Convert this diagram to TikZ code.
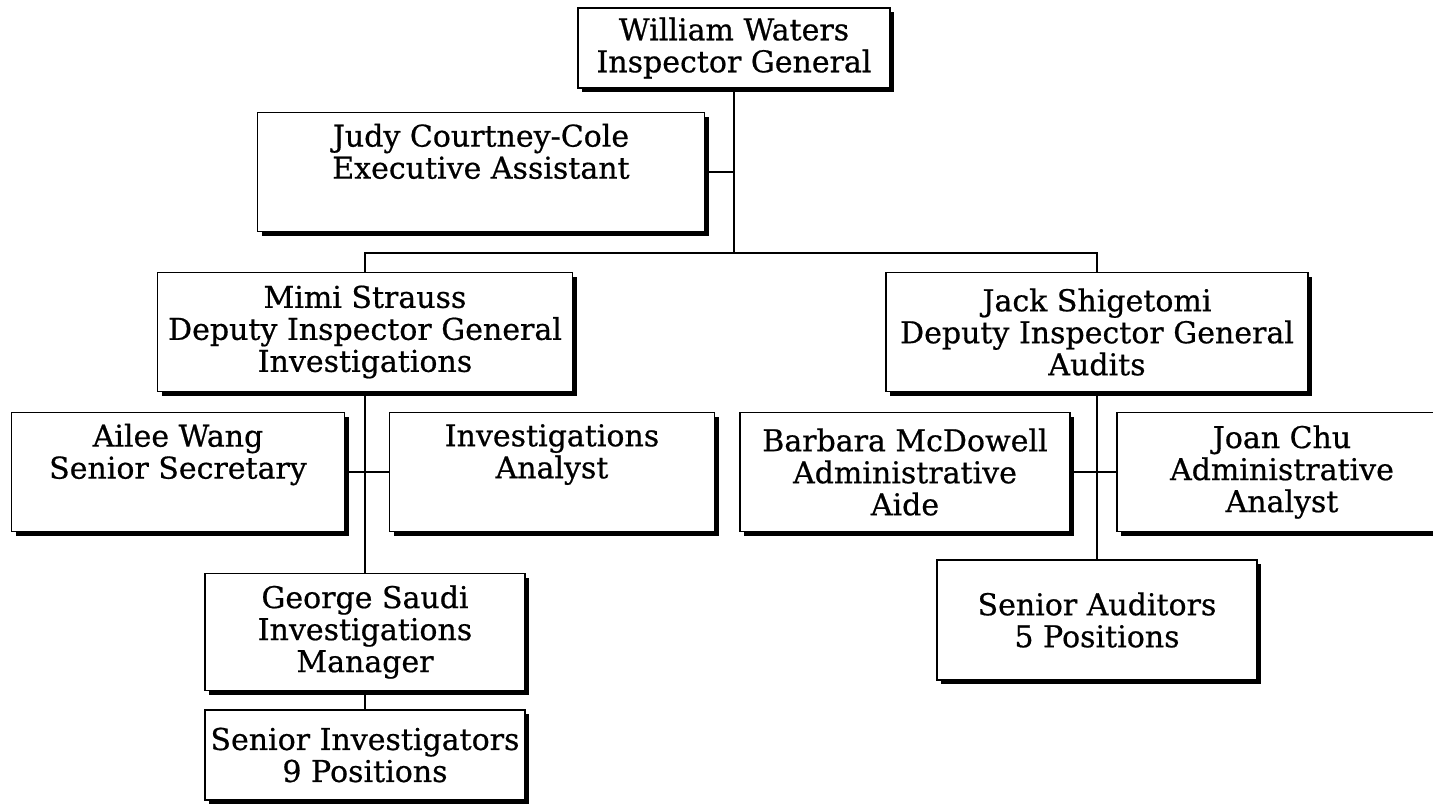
\documentclass[tikz,border=0pt]{standalone}
\usepackage{fontspec}
\setmainfont{DejaVu Serif}
\newfontfamily\orgfont[FakeBold=0.6]{DejaVu Serif}
\usetikzlibrary{shadows}
\tikzset{
  post/.style={draw, fill=white, line width=1.3pt, align=center, inner sep=0pt,
    font=\orgfont\fontsize{30}{32}\selectfont,
    drop shadow={shadow xshift=4pt, shadow yshift=-4pt, fill=black, opacity=1}},
  link/.style={line width=1.5pt}
}
\begin{document}
\begin{tikzpicture}[x=1pt, y=-1pt]
  \useasboundingbox (0,0) rectangle (1433,807);
  % top
  \node[post, minimum width=312pt, minimum height=80pt] (ww) at (734,48)
    {William Waters\\Inspector General};
  \node[post, minimum width=447pt, minimum height=119pt] (judy) at (481,172)
    {Judy Courtney-Cole\\Executive Assistant\\\strut};
  % deputies
  \node[post, minimum width=415pt, minimum height=119pt] (mimi) at (365,332)
    {Mimi Strauss\\Deputy Inspector General\\Investigations};
  \node[post, minimum width=422pt, minimum height=119pt] (jack) at (1097,332)
    {Jack Shigetomi\\Deputy Inspector General\\Audits};
  % investigations side
  \node[post, minimum width=333pt, minimum height=119pt] (ailee) at (178,472)
    {Ailee Wang\\Senior Secretary\\\strut};
  \node[post, minimum width=325pt, minimum height=119pt] (analyst) at (552,472)
    {Investigations\\Analyst\\\strut};
  \node[post, minimum width=320pt, minimum height=117pt] (george) at (365,632)
    {George Saudi\\Investigations\\Manager};
  \node[post, minimum width=320pt, minimum height=90pt] (seninv) at (365,755)
    {Senior Investigators\\9 Positions};
  % audits side
  \node[post, minimum width=330pt, minimum height=119pt] (barbara) at (905,472)
    {Barbara McDowell\\Administrative\\Aide};
  \node[post, minimum width=330pt, minimum height=119pt] (joan) at (1282,472)
    {Joan Chu\\Administrative\\Analyst};
  \node[post, minimum width=320pt, minimum height=120pt] (senaud) at (1097,620)
    {Senior Auditors\\5 Positions};
  % connectors
  \coordinate (bus) at (734,253);
  \begin{scope}[link]
    \draw (ww.south) -- (bus);
    \draw (judy.east) -- (judy.east -| bus);
    \draw (mimi.north) |- (bus) -| (jack.north);
    \draw (mimi.south) -- (george.north);
    \draw (ailee.east) -- (analyst.west);
    \draw (george.south) -- (seninv.north);
    \draw (jack.south) -- (senaud.north);
    \draw (barbara.east) -- (joan.west);
  \end{scope}
\end{tikzpicture}
\end{document}
